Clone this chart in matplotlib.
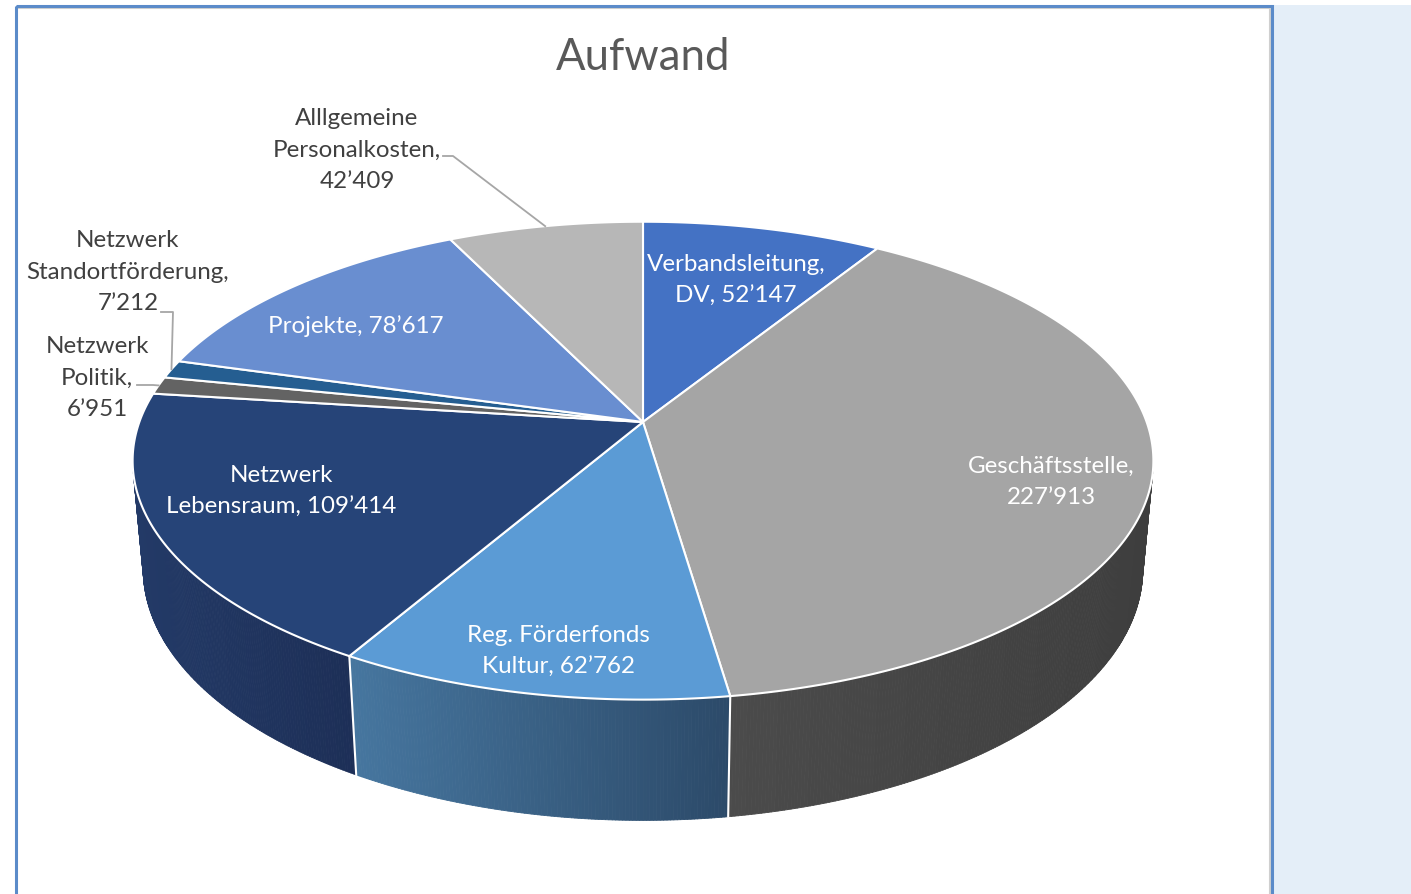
import numpy as np
import matplotlib
matplotlib.use("Agg")
import matplotlib.pyplot as plt
from matplotlib.patches import Polygon, Rectangle
from matplotlib.collections import PolyCollection
import matplotlib.colors as mcolors

# ---------------- data ----------------
title = "Aufwand"
names = ["Verbandsleitung,\nDV", "Geschäftsstelle", "Reg. Förderfonds\nKultur",
         "Netzwerk\nLebensraum", "Netzwerk\nPolitik", "Netzwerk\nStandortförderung",
         "Projekte", "Alllgemeine\nPersonalkosten"]
separators = [", ", ",\n", ", ", ", ", ",\n", ",\n", ", ", ",\n"]
values = [52147, 227913, 62762, 109414, 6951, 7212, 78617, 42409]
top_colors = ["#4472C4", "#A5A5A5", "#5B9BD5", "#264478",
              "#636363", "#255E91", "#698ED0", "#B7B7B7"]
side_left = ["#3A62A8", "#4B4B4B", "#46769F", "#233A67",
             "#555555", "#20507C", "#5A7AB2", "#9C9C9C"]
side_right = ["#2E4E86", "#3E3E3E", "#2C4A69", "#1D2F57",
              "#454545", "#1A4266", "#4A6594", "#808080"]
inside_label = [True, True, True, True, False, False, True, False]
label_pos = [(736, 280), (1051, 482), (558, 651), (281, 491),
             (97, 378), (128, 272), (356, 326), (357, 150)]
# leader line start (end of label text) for outside labels
leader_start = {4: (137, 386), 5: (161, 313), 7: (443, 157)}
leader_knee = {4: (153, 386), 5: (173, 313), 7: (453, 157)}

# ---------------- projection (3D pie with perspective) ----------------
F, D, SE, CE, H = 2760.0, 5.48, 0.462, 0.887, 0.245
CX, CY = 643.0, 423.0


def proj(phi_deg, r, z):
    phi = np.radians(phi_deg)
    X = r * np.sin(phi)
    Y = r * np.cos(phi)
    yv = Y * SE + z * CE
    d = Y * CE - z * SE
    w = D + d
    return CX + F * X / w, CY - F * yv / w


fig = plt.figure(figsize=(14.11, 8.95), dpi=100)
fig.patch.set_facecolor("white")
ax = fig.add_axes([0, 0, 1, 1])
ax.set_xlim(0, 1411)
ax.set_ylim(895, 0)
ax.axis("off")

# background / frame
ax.add_patch(Rectangle((1273, 6), 140, 900, facecolor="#E4EEF8", edgecolor="none", zorder=0))
ax.plot([17, 1270], [8.5, 8.5], color="#CFCFCF", lw=1.5, zorder=1)
ax.plot([1269.5, 1269.5], [8.5, 900], color="#CFCFCF", lw=1.5, zorder=1)
ax.add_patch(Rectangle((15.5, 6.5), 1256, 900, facecolor="none", edgecolor="#5B8BC9", lw=2.2, zorder=2))

total = float(sum(values))
bounds = np.concatenate([[0.0], np.cumsum(values) / total * 360.0])

vis = np.degrees(np.arccos(-1.0 / (D * CE)))
vis_lo, vis_hi = vis, 360.0 - vis

# sides
for i in range(len(values)):
    lo = max(bounds[i], vis_lo)
    hi = min(bounds[i + 1], vis_hi)
    if lo >= hi:
        continue
    n = max(2, int((hi - lo) * 3))
    ph = np.linspace(lo, hi, n + 1)
    xs_all = [proj(p, 1, 0)[0] for p in ph]
    xmin, xmax = min(xs_all), max(xs_all)
    cl = np.array(mcolors.to_rgb(side_left[i]))
    cr = np.array(mcolors.to_rgb(side_right[i]))
    polys, cols = [], []
    for a, b in zip(ph[:-1], ph[1:]):
        p1 = proj(a, 1, 0)
        p2 = proj(b, 1, 0)
        p3 = proj(b, 1, -H)
        p4 = proj(a, 1, -H)
        polys.append([p1, p2, p3, p4])
        xm = 0.5 * (p1[0] + p2[0])
        t = (xm - xmin) / (xmax - xmin) if xmax > xmin else 0.5
        cols.append(cl + t * (cr - cl))
    pc = PolyCollection(polys, facecolors=cols, edgecolors=cols, linewidths=0.6, zorder=3)
    ax.add_collection(pc)

# white vertical separators on side
for b in bounds[1:-1]:
    if vis_lo < b < vis_hi:
        x0, y0 = proj(b, 1, 0)
        x1, y1 = proj(b, 1, -H)
        ax.plot([x0, x1], [y0, y1], color="white", lw=1.5, zorder=4)

# top faces
for i in range(len(values)):
    ph = np.linspace(bounds[i], bounds[i + 1], max(3, int((bounds[i + 1] - bounds[i]) * 2)))
    pts = [(CX, CY)] + [proj(p, 1, 0) for p in ph]
    ax.add_patch(Polygon(pts, closed=True, facecolor=top_colors[i], edgecolor="white",
                         lw=1.5, joinstyle="round", zorder=5))

# labels
FONT = "Lato"
for i in range(len(values)):
    txt = names[i] + separators[i] + f"{values[i]:,}".replace(",", "\u2019")
    color = "white" if inside_label[i] else "#404040"
    ax.text(label_pos[i][0], label_pos[i][1], txt, ha="center", va="center",
            fontsize=17.4, color=color, family=FONT, linespacing=1.63, zorder=7)
    if i in leader_start:
        mid = 0.5 * (bounds[i] + bounds[i + 1])
        ex, ey = proj(mid, 1, 0)
        sx, sy = leader_start[i]
        kx, ky = leader_knee[i]
        ax.plot([sx, kx, ex], [sy, ky, ey], color="#A6A6A6", lw=1.3, zorder=6)

ax.text(643, 57, title, ha="center", va="center", fontsize=31.5, color="#595959", family=FONT, zorder=7)

fig.savefig("out.png", dpi=100, facecolor="white")
